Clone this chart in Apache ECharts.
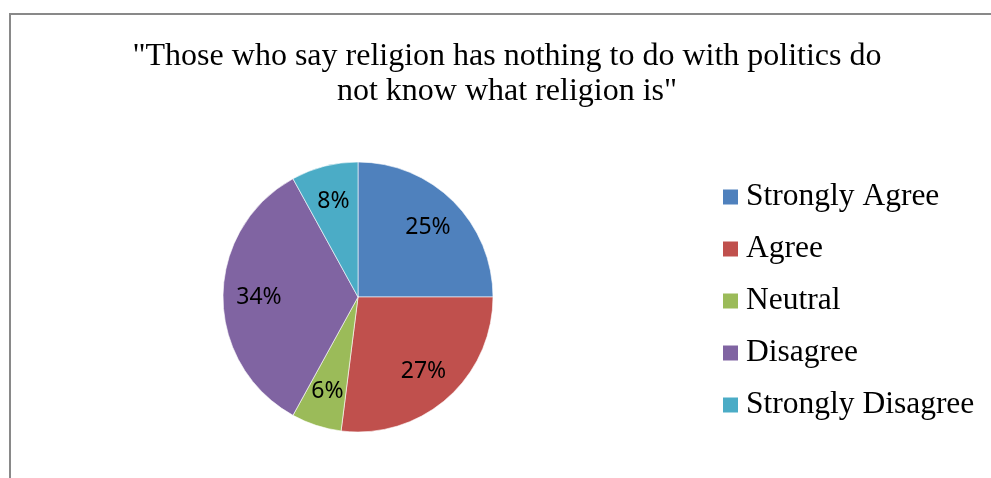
<!DOCTYPE html>
<html>
<head>
<meta charset="utf-8">
<script src="https://cdn.jsdelivr.net/npm/echarts@6/dist/echarts.min.js"></script>
<style>
  html, body { margin: 0; padding: 0; background: #ffffff; }
  #chart { width: 991px; height: 478px; }
</style>
</head>
<body>
<div id="chart"></div>
<script>
// Survey responses to the statement (percent of respondents)
var titleLines = ['"Those who say religion has nothing to do with politics do', 'not know what religion is"'];
var categories = ['Strongly Agree', 'Agree', 'Neutral', 'Disagree', 'Strongly Disagree'];
var percents = [25, 27, 6, 34, 8];
var sliceColors = ['#4F81BD', '#C0504D', '#9BBB59', '#8064A2', '#4BACC6'];

var pieData = categories.map(function (name, i) {
  return { name: name, value: percents[i], itemStyle: { color: sliceColors[i] } };
});

var chart = echarts.init(document.getElementById('chart'), null, { renderer: 'canvas' });

chart.setOption({
  animation: false,
  backgroundColor: '#ffffff',
  graphic: [{
    type: 'rect',
    shape: { x: 10, y: 14, width: 1000, height: 500 },
    style: { fill: 'none', stroke: '#898989', lineWidth: 2 },
    silent: true,
    z: 0
  }],
  title: {
    text: titleLines.join('\n'),
    left: 507,
    top: 39,
    padding: 0,
    textAlign: 'center',
    textStyle: {
      fontFamily: '"Liberation Serif", "Times New Roman", serif',
      fontSize: 32,
      fontWeight: 'normal',
      color: '#000000',
      lineHeight: 35
    }
  },
  legend: {
    orient: 'vertical',
    left: 721,
    top: 181,
    padding: 0,
    itemWidth: 17,
    itemHeight: 17,
    itemGap: 20,
    icon: 'rect',
    selectedMode: false,
    data: categories,
    textStyle: {
      fontFamily: '"Liberation Serif", "Times New Roman", serif',
      fontSize: 31.5,
      color: '#000000',
      padding: [0, 0, 0, 2]
    }
  },
  series: [
    {
      type: 'pie',
      center: [358, 297],
      radius: 135,
      startAngle: 90,
      clockwise: true,
      silent: true,
      label: { show: false },
      labelLine: { show: false },
      itemStyle: { borderColor: '#ffffff', borderWidth: 0.6 },
      data: pieData
    },
    {
      // transparent ring that carries the percentage labels at ~3/4 radius
      type: 'pie',
      center: [358, 297],
      radius: [62, 130],
      startAngle: 90,
      clockwise: true,
      silent: true,
      itemStyle: { color: 'rgba(0,0,0,0)' },
      label: {
        show: true,
        position: 'inside',
        formatter: '{c}%',
        fontFamily: '"Noto Sans", "Open Sans", sans-serif',
        fontSize: 23,
        color: '#000000'
      },
      labelLine: { show: false },
      data: categories.map(function (name, i) {
        return { name: name, value: percents[i] };
      })
    }
  ]
});
</script>
</body>
</html>
